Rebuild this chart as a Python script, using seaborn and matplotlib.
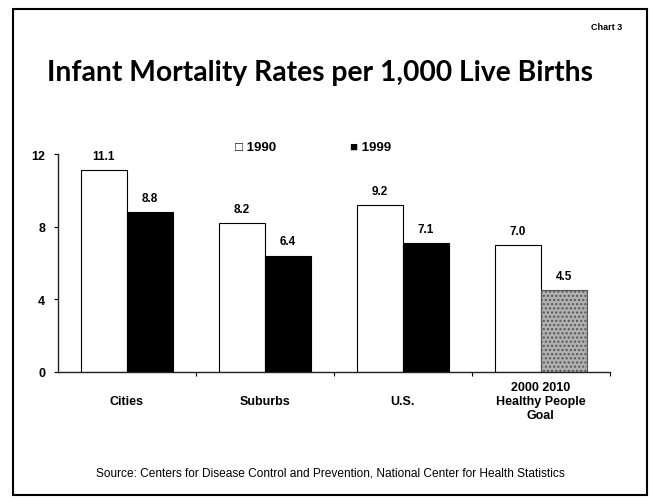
import seaborn as sns
import pandas as pd
import matplotlib.pyplot as plt
from matplotlib.patches import Rectangle

categories = ['Cities', 'Suburbs', 'U.S.', '2000 2010\nHealthy People\nGoal']
rates_1990 = [11.1, 8.2, 9.2, 7.0]
rates_1999 = [8.8, 6.4, 7.1, 4.5]

df = pd.DataFrame({
    'place': categories * 2,
    'rate': rates_1990 + rates_1999,
    'year': ['1990'] * 4 + ['1999'] * 4,
})

sns.set_style('white')
plt.rcParams['font.family'] = ['Liberation Sans', 'DejaVu Sans']
plt.rcParams['text.color'] = 'black'
plt.rcParams['xtick.color'] = 'black'
plt.rcParams['ytick.color'] = 'black'

fig = plt.figure(figsize=(6.5, 5.02), dpi=100)
ax = fig.add_axes([0.089, 0.257, 0.849, 0.434])

sns.barplot(data=df, x='place', y='rate', hue='year', ax=ax,
            palette={'1990': 'white', '1999': 'black'},
            edgecolor='black', linewidth=0.8, width=0.67, legend=False)

# 2010 goal bar is a gray stippled bar
goal = ax.patches[7]
goal.set_facecolor('#b0b0b0')
goal.set_hatch('....')
goal.set_edgecolor('#555555')

for bars in ax.containers:
    ax.bar_label(bars, fmt='%.1f', padding=6, fontsize=8.5, fontweight='bold')

ax.set_ylim(0, 12)
ax.set_xlim(-0.5, 3.5)
ax.set_yticks([0, 4, 8, 12])
ax.set_xlabel('')
ax.set_ylabel('')
ax.tick_params(axis='y', labelsize=9, length=3, left=True, width=0.8, pad=6)
ax.tick_params(axis='x', labelsize=9, length=0, pad=21)
for lbl in ax.get_xticklabels():
    lbl.set_fontweight('bold')
    lbl.set_verticalalignment('center')
for lbl in ax.get_yticklabels():
    lbl.set_fontweight('bold')
ax.set_xticks([0.5, 1.5, 2.5, 3.5], minor=True)
ax.tick_params(axis='x', which='minor', length=3, bottom=True, width=0.8)
sns.despine(ax=ax)
for s in ['left', 'bottom']:
    ax.spines[s].set_color('#222222')
    ax.spines[s].set_linewidth(1.0)

# legend as text markers
fig.text(0.361, 0.705, '\u25a1 1990', fontsize=9.5, fontweight='bold', va='center',
         family=['Liberation Sans', 'DejaVu Sans'])
fig.text(0.538, 0.705, '\u25a0 1999', fontsize=9.5, fontweight='bold', va='center',
         family=['Liberation Sans', 'DejaVu Sans'])

fig.text(0.492, 0.855, 'Infant Mortality Rates per 1,000 Live Births',
         ha='center', va='center', fontsize=20.3, fontweight='bold', family=['Lato', 'DejaVu Sans'])
fig.text(0.958, 0.945, 'Chart 3', ha='right', va='center', fontsize=6.5, fontweight='bold')
fig.text(0.509, 0.056, 'Source: Centers for Disease Control and Prevention, National Center for Health Statistics',
         ha='center', va='center', fontsize=8.6)

fig.patches.append(Rectangle((0.02, 0.012), 0.975, 0.968, transform=fig.transFigure,
                             fill=False, edgecolor='black', linewidth=1.5))

fig.savefig('out.png', dpi=100)
